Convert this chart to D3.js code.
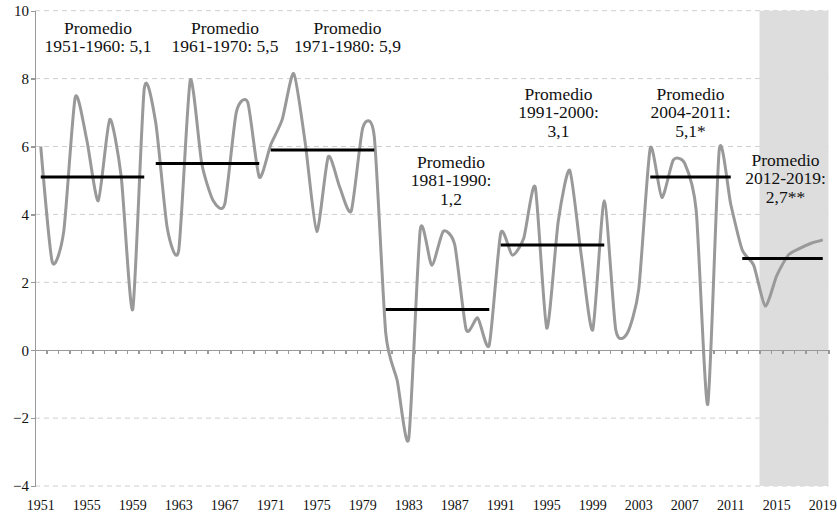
<!DOCTYPE html>
<html>
<head>
<meta charset="utf-8">
<script src="https://cdn.jsdelivr.net/npm/d3@7"></script>
<style>
  body { margin: 0; background: #fff; }
  svg { display: block; }
</style>
</head>
<body>
<div id="chart"></div>
<script>
// años (categorías)
const years = d3.range(1951, 2020);

// crecimiento anual (%)
const growth = [
  6.0, 2.6, 3.5, 7.45, 6.2, 4.4, 6.8, 5.1, 1.2, 7.7,
  6.7, 3.6, 2.95, 7.95, 5.5, 4.4, 4.3, 7.0, 7.3, 5.1,
  6.05, 6.8, 8.15, 6.1, 3.5, 5.7, 4.8, 4.1, 6.55, 6.3,
  0.5, -0.9, -2.6, 3.55, 2.5, 3.5, 3.1, 0.6, 0.95, 0.15,
  3.45, 2.8, 3.3, 4.8, 0.65, 3.8, 5.3, 2.8, 0.6, 4.4,
  0.6, 0.5, 1.8, 5.95, 4.5, 5.6, 5.5, 4.1, -1.6, 5.9,
  4.3, 2.95, 2.5, 1.3, 2.2, 2.8, 3.0, 3.15, 3.25
];

// promedios por período
const periodStart = [1951, 1961, 1971, 1981, 1991, 2004, 2012];
const periodEnd = [1960, 1970, 1980, 1990, 2000, 2011, 2019];
const periodAvg = [5.1, 5.5, 5.9, 1.2, 3.1, 5.1, 2.7];
const periodLabels = [
  ['Promedio', '1951-1960: 5,1'],
  ['Promedio', '1961-1970: 5,5'],
  ['Promedio', '1971-1980: 5,9'],
  ['Promedio', '1981-1990:', '1,2'],
  ['Promedio', '1991-2000:', '3,1'],
  ['Promedio', '2004-2011:', '5,1*'],
  ['Promedio', '2012-2019:', '2,7**']
];

// zona sombreada (proyección)
const shadeFrom = 2014;
const shadeTo = 2019;

const yTicks = [-4, -2, 0, 2, 4, 6, 8, 10];
const xLabelYears = years.filter(d => (d - 1951) % 4 === 0);

const W = 837;
const H = 516;
const margin = { top: 10.7, right: 8.5, bottom: 30, left: 35 };

const svg = d3.select('#chart').append('svg')
  .attr('width', W)
  .attr('height', H);

const x = d3.scaleBand()
  .domain(years)
  .range([margin.left, W - margin.right])
  .padding(0);

const xEdge = d3.scaleLinear()
  .domain([0, years.length])
  .range([margin.left, W - margin.right]);

const y = d3.scaleLinear()
  .domain([-4, 10])
  .range([486, margin.top]);

const cx = yr => x(yr) + x.bandwidth() / 2;
const serif = '"Liberation Serif", "Times New Roman", serif';

// gridlines
svg.append('g')
  .selectAll('line')
  .data(yTicks.filter(d => d !== 0))
  .join('line')
  .attr('x1', margin.left)
  .attr('x2', W - margin.right)
  .attr('y1', d => y(d))
  .attr('y2', d => y(d))
  .style('stroke', '#cfcfcf')
  .style('stroke-width', 1)
  .style('stroke-dasharray', '5,4');

// shaded period
svg.append('rect')
  .attr('x', x(shadeFrom))
  .attr('width', x(shadeTo) + x.bandwidth() - x(shadeFrom))
  .attr('y', y(10))
  .attr('height', y(-4) - y(10))
  .style('fill', '#dddddd');

// y axis
const yAxis = d3.axisLeft(y)
  .tickValues(yTicks)
  .tickSizeInner(4)
  .tickSizeOuter(0)
  .tickPadding(2)
  .tickFormat(d3.format('d'));

const yAx = svg.append('g')
  .attr('transform', `translate(${margin.left},0)`)
  .call(yAxis);

yAx.selectAll('text')
  .style('font-family', serif)
  .style('font-size', '15px')
  .style('fill', '#111');

// zero axis with category ticks
const zeroAxis = d3.axisBottom(xEdge)
  .tickValues(d3.range(years.length + 1))
  .tickSizeInner(4)
  .tickSizeOuter(0)
  .tickFormat('');

svg.append('g')
  .attr('class', 'zero axis')
  .attr('transform', `translate(0,${y(0)})`)
  .call(zeroAxis);

// year labels
const xAxis = d3.axisBottom(x)
  .tickValues(xLabelYears)
  .tickSize(0)
  .tickPadding(0);

const xAx = svg.append('g')
  .attr('transform', `translate(0,${H - 16})`)
  .call(xAxis);
xAx.select('.domain').remove();
xAx.selectAll('text')
  .style('font-family', serif)
  .style('font-size', '14px')
  .style('fill', '#111');

svg.selectAll('.domain, .tick line')
  .style('stroke', '#999')
  .style('stroke-width', 1.3)
  .style('shape-rendering', 'crispEdges');

// growth line (smoothed, Excel-like)
const line = d3.line()
  .curve(d3.curveCardinal.tension(0.35))
  .x((d, i) => cx(years[i]))
  .y(d => y(d));

svg.append('path')
  .datum(growth)
  .attr('d', line)
  .style('fill', 'none')
  .style('stroke', '#999999')
  .style('stroke-width', 3)
  .style('stroke-linejoin', 'round');

// average lines
svg.append('g')
  .selectAll('line')
  .data(periodAvg)
  .join('line')
  .attr('x1', (d, i) => cx(periodStart[i]))
  .attr('x2', (d, i) => cx(periodEnd[i]))
  .attr('y1', d => y(d))
  .attr('y2', d => y(d))
  .style('stroke', '#000')
  .style('stroke-width', 3);

// annotations
const labelCenter = [98, 225, 347.5, 451, 558.5, 690.5, 785.5];
const labelTop = [33.5, 33.5, 33.5, 167.5, 99.5, 99.5, 165.5];
const lineH = 18.6;

const notes = svg.append('g')
  .style('font-family', serif)
  .style('font-size', '17.5px')
  .style('fill', '#111')
  .style('text-anchor', 'middle');

periodLabels.forEach((lines, i) => {
  const t = notes.append('text');
  lines.forEach((s, j) => {
    t.append('tspan')
      .attr('x', labelCenter[i])
      .attr('y', labelTop[i] + j * lineH)
      .text(s);
  });
});
</script>
</body>
</html>
